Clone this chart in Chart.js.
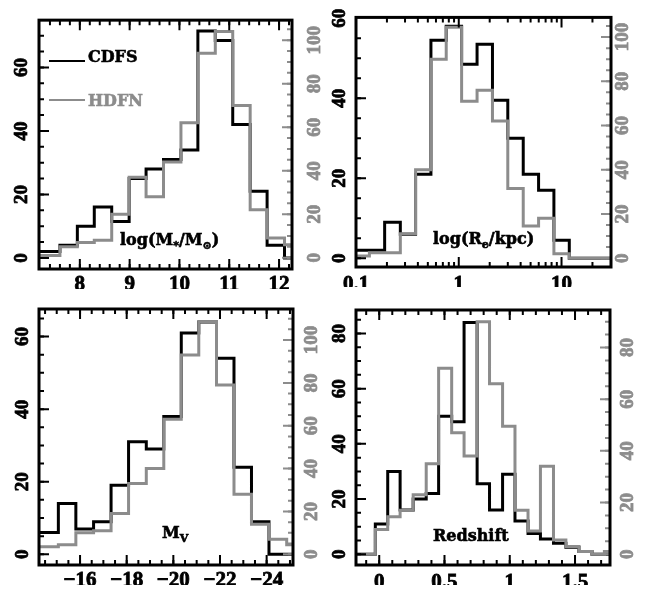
<!DOCTYPE html>
<html>
<head>
<meta charset="utf-8">
<script src="https://cdn.jsdelivr.net/npm/chart.js@4.4.1/dist/chart.umd.min.js"></script>
<style>
  html, body { margin: 0; padding: 0; background: #fff; }
  #wrap { position: relative; width: 646px; height: 593px; }
  #wrap canvas { position: absolute; left: 0; top: 0; }
</style>
</head>
<body>
<div id="wrap">
  <canvas id="mass" width="646" height="593"></canvas>
  <canvas id="size" width="646" height="593"></canvas>
  <canvas id="mv" width="646" height="593"></canvas>
  <canvas id="zed" width="646" height="593"></canvas>
</div>
<script>
// ---- data (bin edges + counts per bin) ----
// stellar mass, log(M*/Msun)
const massEdges = [7.15, 7.6, 7.95, 8.29, 8.64, 8.99, 9.33, 9.68, 10.03, 10.37, 10.72, 11.07, 11.42, 11.76, 12.11, 12.46];
const massCdfs = [2, 4, 10, 16, 11.5, 25, 28, 31, 34, 71.5, 68.5, 42, 21, 4, 0];
const massHdfn = [1, 5, 7, 8, 20, 37, 28, 44, 62, 94, 104, 70, 22, 9, 6];
const massTicks = [8, 9, 10, 11, 12];

// effective radius, kpc (log axis)
const sizeEdges = [0.0955, 0.135, 0.19, 0.27, 0.38, 0.536, 0.755, 1.066, 1.507, 2.128, 3.0, 4.24, 5.98, 8.43, 11.9, 16.8, 23.8, 33.6];
const sizeCdfs = [2, 2, 9, 6, 21, 54.5, 58, 48.5, 53.5, 39.5, 30, 21, 17, 4.5, 0, 0, 0];
const sizeHdfn = [1, 2.5, 2.5, 11, 40, 90, 104.5, 71, 76, 62, 31.5, 14.5, 18, 2, 0, 0, 0];
const sizeTicks = [0.1, 1, 10];

// absolute V magnitude
const mvEdges = [-14.2, -15.07, -15.82, -16.58, -17.33, -18.08, -18.84, -19.59, -20.34, -21.09, -21.85, -22.6, -23.35, -24.1, -24.86, -25.61];
const mvCdfs = [6, 14, 7, 9, 19, 31, 29, 38, 61, 64, 54, 24, 9, 0, 0];
const mvHdfn = [3.5, 4.5, 10, 11, 19, 33, 40, 63, 93, 108.5, 79, 28, 14, 7, 4.5];
const mvTicks = [-16, -18, -20, -22, -24];

// redshift
const zEdges = [-0.2, -0.03, 0.065, 0.16, 0.26, 0.36, 0.455, 0.555, 0.65, 0.75, 0.845, 0.945, 1.04, 1.14, 1.235, 1.335, 1.43, 1.53, 1.63, 1.725, 1.82];
const zCdfs = [0, 11, 30, 16, 20, 22, 50, 48, 84, 25.5, 16, 29, 12, 7.5, 5.5, 4, 2.5, 1, 0, 0];
const zHdfn = [0, 9.5, 14.5, 17, 23, 35, 72, 47, 38, 90, 66, 49.5, 17, 9, 34, 5.5, 3, 1, 0, 1];
const zTicks = [0, 0.5, 1, 1.5];

const countTicksCdfs = [0, 20, 40, 60, 80];
const countTicksHdfn = [0, 20, 40, 60, 80, 100];

// ---- look ----
const BLACK = '#000000';
const GRAY = '#8c8c8c';
const TICK_FONT = "'Liberation Serif', serif";
const TEXT_FONT = "'DejaVu Serif', serif";
const AXW = 30, AXH = 20;

function steps(a, b, s) {
  const out = [];
  for (let v = a; v <= b + 1e-9; v += s) out.push(Math.round(v * 1000) / 1000);
  return out;
}

// step histogram: each point holds its count until the next edge
function histPoints(edges, counts) {
  const pts = counts.map((c, i) => ({ x: edges[i], y: c }));
  pts.push({ x: edges[edges.length - 1], y: counts[counts.length - 1] });
  return pts;
}

function drawRich(ctx, segs, x, y, color) {
  ctx.fillStyle = color;
  ctx.strokeStyle = color;
  ctx.lineWidth = 0.6;
  ctx.textBaseline = 'alphabetic';
  ctx.textAlign = 'left';
  segs.forEach(s => {
    ctx.font = s.sub ? "bold 11px " + TEXT_FONT : "bold 16px " + TEXT_FONT;
    const yy = y + (s.sub ? 4 : 0);
    ctx.fillText(s.t, x, yy);
    ctx.strokeText(s.t, x, yy);
    x += ctx.measureText(s.t).width;
  });
}

// frame, inward ticks, panel label and legend
const decor = {
  id: 'decor',
  afterDraw(chart, args, opts) {
    const ctx = chart.ctx, a = chart.chartArea;
    ctx.save();
    ctx.lineCap = 'butt';
    function ticks(scale, vals, len, sides, color) {
      ctx.strokeStyle = color;
      ctx.lineWidth = 2;
      ctx.beginPath();
      vals.forEach(v => {
        const p = scale.getPixelForValue(v);
        sides.forEach(s => {
          if (s === 'bottom' || s === 'top') {
            if (p < a.left + 2 || p > a.right - 2) return;
            const y0 = s === 'bottom' ? a.bottom : a.top;
            ctx.moveTo(p, y0); ctx.lineTo(p, s === 'bottom' ? y0 - len : y0 + len);
          } else {
            if (p < a.top + 2 || p > a.bottom - 2) return;
            const x0 = s === 'left' ? a.left : a.right;
            ctx.moveTo(x0, p); ctx.lineTo(s === 'left' ? x0 + len : x0 - len, p);
          }
        });
      });
      ctx.stroke();
    }
    const sc = chart.scales;
    ticks(sc.x, opts.xMinor, 5, ['bottom', 'top'], BLACK);
    ticks(sc.x, opts.xMajor, 10, ['bottom', 'top'], BLACK);
    ticks(sc.y, steps(0, sc.y.max, 5), 5, ['left'], BLACK);
    ticks(sc.y, steps(0, sc.y.max, 20), 10, ['left'], BLACK);
    ticks(sc.y2, steps(0, sc.y2.max, 5), 5, ['right'], GRAY);
    ticks(sc.y2, steps(0, sc.y2.max, 20), 10, ['right'], GRAY);

    ctx.strokeStyle = BLACK;
    ctx.lineWidth = 3;
    ctx.strokeRect(a.left, a.top, a.right - a.left, a.bottom - a.top);

    if (opts.label) drawRich(ctx, opts.label.segs, opts.label.x, opts.label.y, BLACK);

    if (opts.legend) {
      const L = opts.legend;
      chart.data.datasets.forEach((ds, i) => {
        const it = L.items[i];
        ctx.strokeStyle = ds.borderColor;
        ctx.lineWidth = 2;
        ctx.beginPath();
        ctx.moveTo(L.x1, it.lineY); ctx.lineTo(L.x2, it.lineY);
        ctx.stroke();
        drawRich(ctx, [{ t: ds.label }], L.textX, it.textY, ds.borderColor);
      });
    }
    ctx.restore();
  }
};

function panel(id, p) {
  const b = p.box;
  new Chart(document.getElementById(id), {
    type: 'line',
    data: {
      datasets: [
        { label: 'CDFS', data: histPoints(p.edges, p.cdfs), yAxisID: 'y', borderColor: BLACK,
          borderWidth: 3, stepped: true, pointRadius: 0, fill: false, order: 1 },
        { label: 'HDFN', data: histPoints(p.edges, p.hdfn), yAxisID: 'y2', borderColor: GRAY,
          borderWidth: 3, stepped: true, pointRadius: 0, fill: false, order: 0 }
      ]
    },
    options: {
      responsive: false,
      animation: false,
      devicePixelRatio: 1,
      layout: { padding: { left: b.l - AXW, right: 646 - b.r - AXW, top: b.t, bottom: 593 - b.b - AXH } },
      scales: {
        x: {
          type: p.xType, min: p.xMin, max: p.xMax, reverse: !!p.reverse,
          grid: { display: false, drawTicks: false }, border: { display: false },
          afterBuildTicks: s => { s.ticks = p.xTicks.map(v => ({ value: v })); },
          ticks: { autoSkip: false, maxRotation: 0, minRotation: 0, padding: p.xPad, color: BLACK,
                   textStrokeColor: BLACK, textStrokeWidth: 0.8,
                   font: { family: TICK_FONT, weight: 'bold', size: 21 },
                   callback: v => (v < 0 ? '\u2212' + Math.abs(v) : String(v)) },
          afterFit: s => { s.height = AXH; }
        },
        y: {
          position: 'left', min: p.yMin, max: p.yMax,
          grid: { display: false, drawTicks: false }, border: { display: false },
          afterBuildTicks: s => { s.ticks = countTicksCdfs.filter(v => v <= p.yMax).map(v => ({ value: v })); },
          ticks: { minRotation: 90, maxRotation: 90, crossAlign: 'center', padding: p.yPad, color: BLACK,
                   textStrokeColor: BLACK, textStrokeWidth: 0.8,
                   font: { family: TICK_FONT, weight: 'bold', size: 19 }, callback: v => String(v) },
          afterFit: s => { s.width = AXW; }
        },
        y2: {
          position: 'right', min: p.y2Min, max: p.y2Max,
          grid: { display: false, drawTicks: false }, border: { display: false },
          afterBuildTicks: s => { s.ticks = countTicksHdfn.filter(v => v <= p.y2Max).map(v => ({ value: v })); },
          ticks: { minRotation: 90, maxRotation: 90, crossAlign: 'center', padding: p.y2Pad, color: GRAY,
                   textStrokeColor: GRAY, textStrokeWidth: 0.8,
                   font: { family: TICK_FONT, weight: 'bold', size: 19 }, callback: v => String(v) },
          afterFit: s => { s.width = AXW; }
        }
      },
      plugins: {
        legend: { display: false },
        tooltip: { enabled: false },
        decor: { xMajor: p.xTicks, xMinor: p.xMinor, label: p.label, legend: p.legend }
      }
    },
    plugins: [decor]
  });
}

panel('mass', {
  box: { l: 39, r: 292, t: 14, b: 269 },
  xType: 'linear', xMin: 7.18, xMax: 12.26, xTicks: massTicks, xMinor: steps(7.2, 12.2, 0.2), xPad: 2.5,
  edges: massEdges, cdfs: massCdfs, hdfn: massHdfn,
  yMin: -3.5, yMax: 74.9, yPad: 7, y2Min: -5.2, y2Max: 109.2, y2Pad: 8.75,
  label: { x: 120, y: 245, segs: [{ t: 'log(M' }, { t: '*', sub: 1 }, { t: '/M' }, { t: '\u2299', sub: 1 }, { t: ')' }] },
  legend: { x1: 49, x2: 85, textX: 88, items: [{ lineY: 61, textY: 62 }, { lineY: 100, textY: 106 }] }
});

panel('size', {
  box: { l: 356, r: 611, t: 14, b: 267 },
  xType: 'logarithmic', xMin: 0.1, xMax: 30.3, xTicks: sizeTicks,
  xMinor: [0.2, 0.3, 0.4, 0.5, 0.6, 0.7, 0.8, 0.9, 2, 3, 4, 5, 6, 7, 8, 9, 20, 30], xPad: 4.5,
  edges: sizeEdges, cdfs: sizeCdfs, hdfn: sizeHdfn,
  yMin: -2.2, yMax: 60.2, yPad: 6, y2Min: -4.0, y2Max: 108.9, y2Pad: -2.25,
  label: { x: 433, y: 244, segs: [{ t: 'log(R' }, { t: 'e', sub: 1 }, { t: '/kpc)' }] }
});

panel('mv', {
  box: { l: 39, r: 293, t: 309, b: 565 },
  xType: 'linear', xMin: -25.13, xMax: -14.24, reverse: true, xTicks: mvTicks, xMinor: steps(-25, -14.5, 0.5), xPad: 2.5,
  edges: mvEdges, cdfs: mvCdfs, hdfn: mvHdfn,
  yMin: -2.95, yMax: 67.6, yPad: 6.5, y2Min: -5.0, y2Max: 114.5, y2Pad: 4.75,
  label: { x: 162, y: 538, segs: [{ t: 'M' }, { t: 'V', sub: 1 }] }
});

panel('zed', {
  box: { l: 356, r: 610, t: 310, b: 565 },
  xType: 'linear', xMin: -0.178, xMax: 1.768, xTicks: zTicks, xMinor: steps(-0.1, 1.7, 0.1), xPad: 4.5,
  edges: zEdges, cdfs: zCdfs, hdfn: zHdfn,
  yMin: -3.9, yMax: 88.5, yPad: 6, y2Min: -4.2, y2Max: 94.5, y2Pad: 8.5,
  label: { x: 433, y: 541, segs: [{ t: 'Redshift' }] }
});
</script>
</body>
</html>
